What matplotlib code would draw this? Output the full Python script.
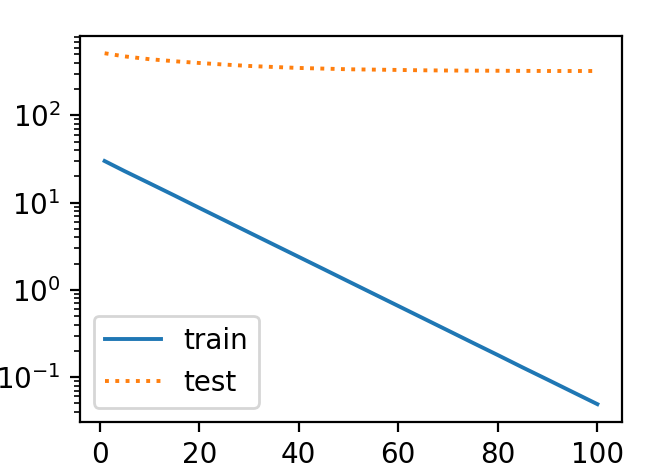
import matplotlib
matplotlib.use("Agg")
import matplotlib.pyplot as plt

epochs = [1, 5, 10, 15, 20, 25, 30, 35, 40, 45, 50,
          55, 60, 65, 70, 75, 80, 85, 90, 95, 100]
train_loss = [30.0, 23.0, 16.7, 12.1, 8.72, 6.31, 4.56, 3.30, 2.39, 1.73, 1.25,
              0.904, 0.654, 0.473, 0.342, 0.247, 0.179, 0.129, 0.0936, 0.0677, 0.049]
test_loss = [516, 475, 441, 418, 399, 383, 369, 359, 350, 344, 338,
             335, 332, 329, 327, 326, 325, 324, 323, 323, 323]

DPI = 200
fig = plt.figure(figsize=(657 / DPI, 468 / DPI), dpi=DPI)
ax = fig.add_axes([80 / 657, 1 - 421.7 / 468, 542 / 657, 386 / 468])

ax.plot(epochs, train_loss, "-", linewidth=1.4, label="train")
ax.plot(epochs, test_loss, ":", linewidth=1.4, label="test")
ax.set_yscale("log")
ax.legend(loc="lower left")

fig.savefig("out.png", dpi=DPI)
